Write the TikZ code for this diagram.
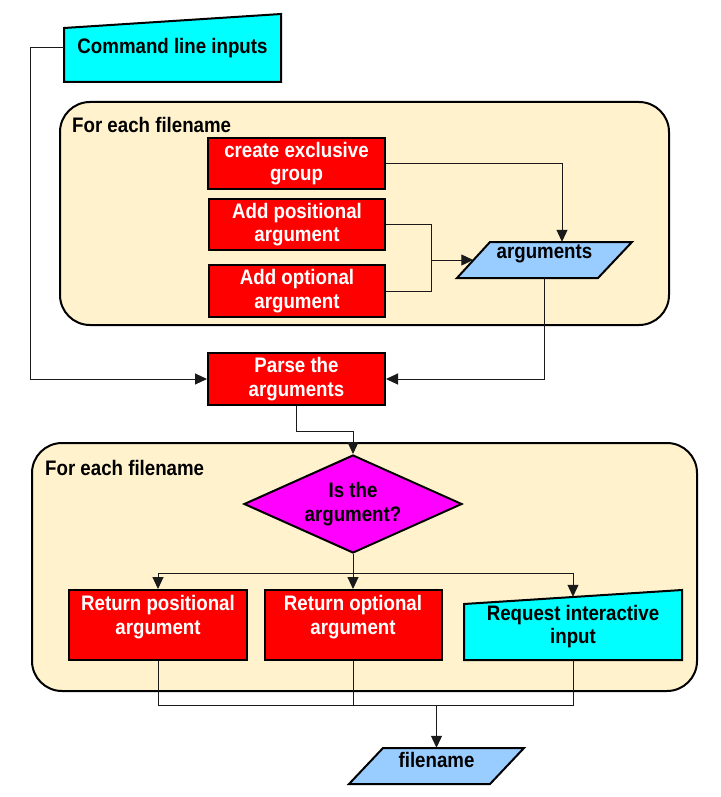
\documentclass[tikz,border=0pt]{standalone}
\usepackage{fontspec}
\setmainfont{Liberation Sans}[FakeStretch=0.89]
\usetikzlibrary{shapes.geometric,arrows.meta}
\definecolor{contfill}{HTML}{FFF2CC}
\definecolor{lblue}{HTML}{99CCFF}
\definecolor{lnc}{HTML}{1A1A1A}
\definecolor{cyanx}{HTML}{00FFFF}
\definecolor{magx}{HTML}{FF00FF}
\definecolor{redx}{HTML}{FF0000}
\begin{document}
\begin{tikzpicture}[x=1pt,y=-1pt,
  font=\fontsize{21}{23.5}\selectfont\bfseries,
  container/.style={draw=black, line width=2pt, fill=contfill, rounded corners=30pt, inner sep=0pt},
  redbox/.style={draw=black, line width=2pt, fill=redx, text=white, align=center, inner sep=0pt},
  wtxt/.style={text=white, align=center, inner sep=0pt},
  btxt/.style={text=black, align=center, inner sep=0pt},
  hold/.style={draw=none, inner sep=0pt, align=center},
  shapeline/.style={draw=black, line width=2pt, line join=miter},
  line/.style={draw=lnc, line width=1pt},
  conn/.style={draw=lnc, line width=1pt, -{Triangle[length=12pt,width=11pt]}}]
\useasboundingbox (0,0) rectangle (720,797);

% containers
\node[container, minimum width=609, minimum height=223] (c1) at (364.5,213.5) {};
\node[anchor=west, inner sep=0pt] (l1) at (72,125) {For each filename};
\node[container, minimum width=665, minimum height=248] (c2) at (364.5,567) {};
\node[anchor=west, inner sep=0pt] (l2) at (45,468) {For each filename};

% command line inputs (manual input)
\draw[shapeline, fill=cyanx] (64,82) -- (64,28) -- (281,14) -- (281,82) -- cycle;
\node[hold, minimum width=217, minimum height=54] (cmd) at (172.5,48) {Command line inputs};

% red boxes, first block
\node[redbox, minimum width=177, minimum height=51] (create) at (296.5,163.5) {create exclusive\\group};
\node[redbox, minimum width=176, minimum height=51] (addpos) at (297,224.5) {Add positional\\argument};
\node[redbox, minimum width=176, minimum height=52] (addopt) at (297,291) {Add optional\\argument};

% arguments (data)
\draw[shapeline, fill=lblue] (457,278) -- (490,242) -- (632,242) -- (598,278) -- cycle;
\node[hold, minimum width=142, minimum height=36] (args) at (544.5,260) {};
\node[btxt] (argst) at ([yshift=6pt]args.center) {arguments};

% parse
\node[redbox, minimum width=177, minimum height=52] (parse) at (296.5,379) {Parse the\\arguments};

% diamond
\node[diamond, draw=black, line width=2pt, fill=magx, minimum width=218, minimum height=98, inner sep=0pt, aspect=2.2, align=center] (dia) at (353,504) {Is the\\argument?};

% bottom row
\node[redbox, minimum width=178, minimum height=70] (retpos) at (158,625) {};
\node[wtxt] (retpost) at ([yshift=8pt]retpos.center) {Return positional\\argument};
\node[redbox, minimum width=177, minimum height=70] (retopt) at (353,625) {};
\node[wtxt] (retoptt) at ([yshift=8pt]retopt.center) {Return optional\\argument};
\draw[shapeline, fill=cyanx] (464,660) -- (464,604) -- (682,590) -- (682,660) -- cycle;
\node[hold, minimum width=218, minimum height=63] (req) at (573,628.5) {};
\node[btxt] (reqt) at ([yshift=2pt]req.center) {Request interactive\\input};

% filename (data)
\draw[shapeline, fill=lblue] (349,784) -- (383,748) -- (524,748) -- (490,784) -- cycle;
\node[hold, minimum width=141, minimum height=36] (fn) at (436.5,766) {};
\node[btxt] (fnt) at ([yshift=6pt]fn.center) {filename};

% connectors
\draw[conn] (cmd.west) -- ++(-33,0) |- (parse.west);
\draw[conn] (create.east) -| ([xshift=17.5pt]args.north);
\draw[line] (addpos.east) -- ++(45,0) coordinate (mtop) -- (mtop |- addopt.east) -- (addopt.east);
\draw[conn] (mtop |- args.west) -- (args.west);
\draw[conn] (args.south) -- (args.south |- parse.east) -- (parse.east);
\draw[conn] (parse.south) -- ++(0,25) -| (dia.north);
\draw[line] (dia.south) -- ++(0,19) coordinate (split);
\draw[conn] (split) -| (retpos.north);
\draw[conn] (split) -- (retopt.north);
\draw[conn] (split) -| (req.north);
\draw[line] (retpos.south) -- ++(0,44) coordinate (j1) -- (j1 -| req.south) -- (req.south);
\draw[line] (retopt.south) -- (retopt.south |- j1);
\draw[conn] (fn.north |- j1) -- (fn.north);
\end{tikzpicture}
\end{document}
